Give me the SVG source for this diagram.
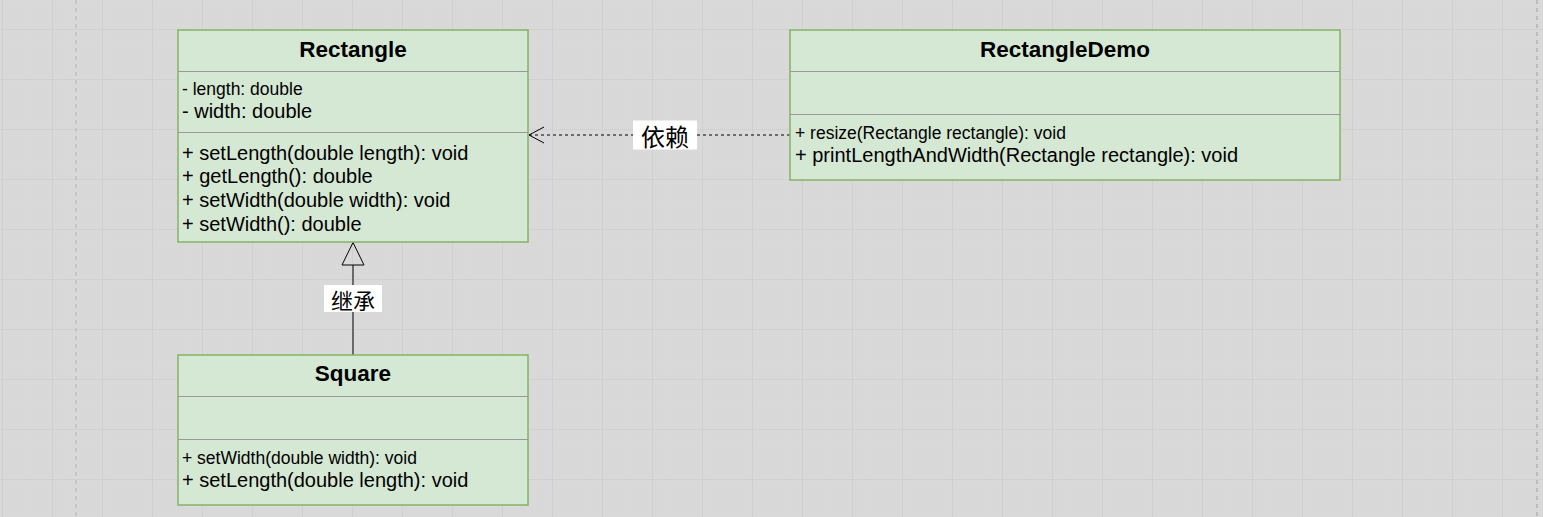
<svg xmlns="http://www.w3.org/2000/svg" width="1543" height="517" viewBox="0 0 1543 517">
<style>
.box{fill:#d5e8d4;stroke:#82b366;stroke-width:1.5}
.div{stroke:#999999;stroke-width:1}
.title{font-family:"Liberation Sans",Arial,sans-serif;font-weight:bold;font-size:22.5px;fill:#000;text-anchor:middle}
.t{font-family:"Liberation Sans",Arial,sans-serif;font-size:20px;fill:#000}
.s{font-family:"Liberation Sans",Arial,sans-serif;font-size:17.5px;fill:#000}
.lbl{font-family:"Noto Sans CJK SC",sans-serif;fill:#000;text-anchor:middle;dominant-baseline:central}
.edge{fill:none;stroke:#000;stroke-width:1}
.page{stroke:#b3b3b3;stroke-dasharray:4 4}
</style>
<defs>
<pattern id="grid" patternUnits="userSpaceOnUse" x="2" y="29" width="50" height="50">
<rect width="50" height="50" fill="#d9d9d9"/>
<path d="M10.5 0V50M20.5 0V50M30.5 0V50M40.5 0V50M0 10.5H50M0 20.5H50M0 30.5H50M0 40.5H50" stroke="#d8d8d8" stroke-width="1"/>
<path d="M0.5 0V50M0 0.5H50" stroke="#d0d0d0" stroke-width="1"/>
</pattern>
</defs>
<rect width="1543" height="517" fill="url(#grid)"/>
<line class="page" x1="76" y1="0" x2="76" y2="517"/>
<line class="page" x1="1537" y1="0" x2="1537" y2="517" stroke-width="1.5"/>

<g id="edges">
<g id="dependency">
<line class="edge" x1="790" y1="135" x2="529" y2="135" stroke-dasharray="3 3"/>
<polyline class="edge" points="544,127 529,135 544,143"/>
<rect x="633" y="120.5" width="64" height="29" fill="#ffffff"/>
<text class="lbl" x="665" y="135.5" font-size="24px">依赖</text>
</g>
<g id="inheritance">
<line class="edge" x1="353" y1="355" x2="353" y2="265"/>
<polygon class="edge" points="353,242.5 342,265 364,265"/>
<rect x="324" y="285" width="58" height="27" fill="#ffffff"/>
<text class="lbl" x="353" y="298.5" font-size="22px">继承</text>
</g>
</g>

<g id="Rectangle">
<rect class="box" x="178" y="30" width="350" height="212"/>
<line class="div" x1="178" y1="71.5" x2="528" y2="71.5"/>
<line class="div" x1="178" y1="132.5" x2="528" y2="132.5"/>
<text class="title" x="353" y="56.5">Rectangle</text>
<text class="s" x="182" y="95">- length: double</text>
<text class="t" x="182" y="118">- width: double</text>
<text class="t" x="182" y="159.5">+ setLength(double length): void</text>
<text class="t" x="182" y="183">+ getLength(): double</text>
<text class="t" x="182" y="207">+ setWidth(double width): void</text>
<text class="t" x="182" y="230.5">+ setWidth(): double</text>
</g>

<g id="RectangleDemo">
<rect class="box" x="790" y="30" width="550" height="150"/>
<line class="div" x1="790" y1="71.5" x2="1340" y2="71.5"/>
<line class="div" x1="790" y1="114.5" x2="1340" y2="114.5"/>
<text class="title" x="1065" y="56.5">RectangleDemo</text>
<text class="s" x="795" y="138.5">+ resize(Rectangle rectangle): void</text>
<text class="t" x="795" y="162">+ printLengthAndWidth(Rectangle rectangle): void</text>
</g>

<g id="Square">
<rect class="box" x="178" y="355" width="350" height="150"/>
<line class="div" x1="178" y1="396.5" x2="528" y2="396.5"/>
<line class="div" x1="178" y1="439.5" x2="528" y2="439.5"/>
<text class="title" x="353" y="381">Square</text>
<text class="s" x="182" y="463.5">+ setWidth(double width): void</text>
<text class="t" x="182" y="487">+ setLength(double length): void</text>
</g>
</svg>
